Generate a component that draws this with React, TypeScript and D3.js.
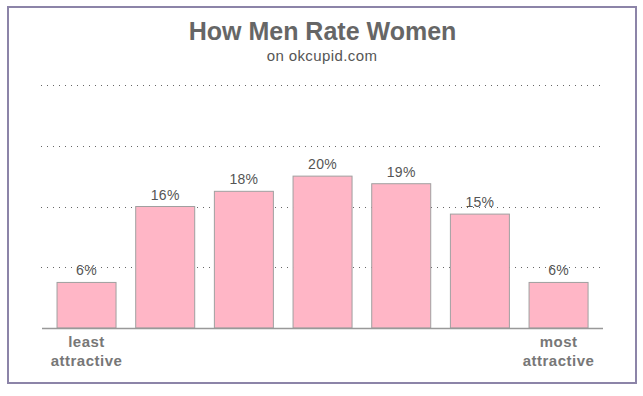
import React from "react";
import * as d3 from "d3";

const categories = ["1", "2", "3", "4", "5", "6", "7"];
const values = [6, 16, 18, 20, 19, 15, 6];
const valueLabels = ["6%", "16%", "18%", "20%", "19%", "15%", "6%"];
const gridTicks = [8, 16, 24, 32];
const endLabels: { index: number; lines: string[] }[] = [
  { index: 0, lines: ["least", "attractive"] },
  { index: 6, lines: ["most", "attractive"] },
];

const W = 643;
const H = 396;

export default function App() {
  const x = d3
    .scaleBand<string>()
    .domain(categories)
    .range([47.2, 597.9])
    .paddingInner(0.25)
    .paddingOuter(0.125);
  const y = d3.scaleLinear().domain([0, 32]).range([328, 85]);
  const font = "'Liberation Sans', Arial, sans-serif";

  return (
    <svg
      width={W}
      height={H}
      style={{ position: "absolute", left: 0, top: 0, display: "block", background: "#fff" }}
    >
      <rect x={8} y={7} width={628} height={376} fill="#fff" stroke="#8c84a8" strokeWidth={2} />
      <text
        x={322.5}
        y={40}
        textAnchor="middle"
        fontFamily={font}
        fontWeight="bold"
        fontSize={25}
        fill="#666"
      >
        How Men Rate Women
      </text>
      <text
        x={322}
        y={61}
        textAnchor="middle"
        fontFamily={font}
        fontSize={15}
        letterSpacing={0.4}
        fill="#555"
      >
        on okcupid.com
      </text>
      {gridTicks.map((t) => (
        <line
          key={t}
          x1={41}
          x2={602}
          y1={Math.round(y(t)) + 0.5}
          y2={Math.round(y(t)) + 0.5}
          stroke="#666"
          strokeWidth={1}
          strokeDasharray="1 5"
        />
      ))}
      {categories.map((c, i) => {
        const val = values[i];
        const bx = x(c)!;
        const bw = x.bandwidth();
        return (
          <g key={c}>
            <rect
              x={bx}
              y={y(val)}
              width={bw}
              height={y(0) - y(val)}
              fill="#ffb6c6"
              stroke="#a0a0a0"
              strokeWidth={1}
            />
            <text
              x={bx + bw / 2}
              y={y(val) - 7}
              textAnchor="middle"
              fontFamily={font}
              fontSize={14}
              letterSpacing={0.3}
              fill="#555"
            >
              {valueLabels[i]}
            </text>
          </g>
        );
      })}
      <line x1={42} x2={603} y1={328.5} y2={328.5} stroke="#999" strokeWidth={1.5} />
      {endLabels.map((e) => {
        const cx = x(categories[e.index])! + x.bandwidth() / 2;
        return (
          <text
            key={e.index}
            textAnchor="middle"
            fontFamily={font}
            fontWeight="bold"
            fontSize={15}
            letterSpacing={0.5}
            fill="#777"
          >
            {e.lines.map((l, k) => (
              <tspan key={k} x={cx} y={347 + k * 18.5}>
                {l}
              </tspan>
            ))}
          </text>
        );
      })}
    </svg>
  );
}
